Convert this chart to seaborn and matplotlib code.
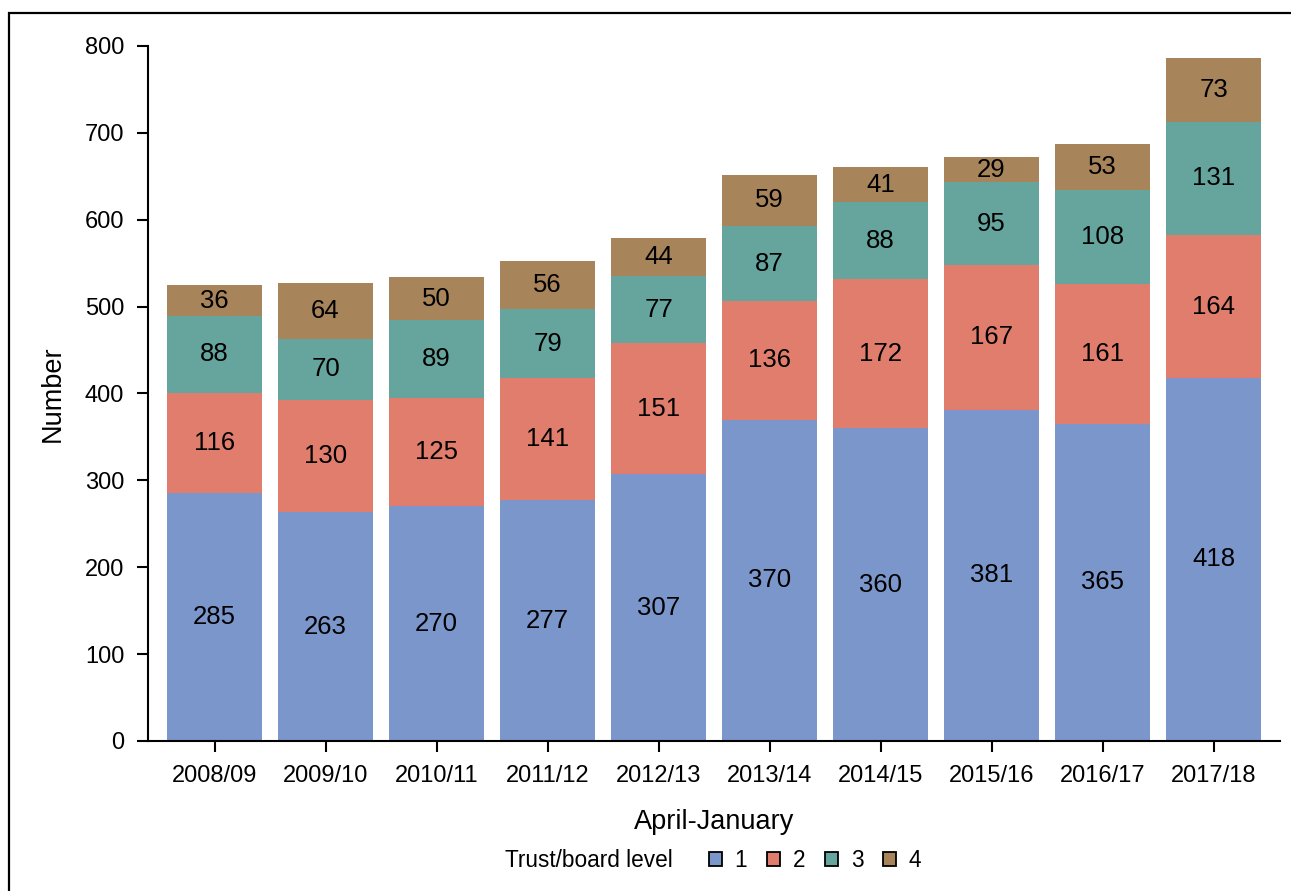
import matplotlib
matplotlib.use("Agg")
import matplotlib.pyplot as plt
import numpy as np
import seaborn as sns
from matplotlib.patches import Rectangle, Patch

years = ["2008/09", "2009/10", "2010/11", "2011/12", "2012/13",
         "2013/14", "2014/15", "2015/16", "2016/17", "2017/18"]
levels = ["1", "2", "3", "4"]
level_1 = [285, 263, 270, 277, 307, 370, 360, 381, 365, 418]
level_2 = [116, 130, 125, 141, 151, 136, 172, 167, 161, 164]
level_3 = [88, 70, 89, 79, 77, 87, 88, 95, 108, 131]
level_4 = [36, 64, 50, 56, 44, 59, 41, 29, 53, 73]
colors = ["#7b96cb", "#e07d6d", "#65a59e", "#a8845a"]

sns.set_style("ticks")
plt.rcParams["font.family"] = ["Liberation Sans", "DejaVu Sans"]
plt.rcParams.update({"text.color": "black", "axes.labelcolor": "black",
                     "xtick.color": "black", "ytick.color": "black"})

fig = plt.figure(figsize=(12.91, 8.91), dpi=100)
ax = fig.add_axes([0.1146, 0.1684, 0.877, 0.78])

bottom = np.zeros(len(years))
for vals, col in zip([level_1, level_2, level_3, level_4], colors):
    sns.barplot(x=years, y=vals, bottom=bottom, color=col, width=0.86,
                saturation=1, linewidth=0, ax=ax)
    ax.bar_label(ax.containers[-1], label_type="center", fontsize=18.5, color="black")
    bottom = bottom + np.array(vals)

ax.set_xlim(-0.6, 9.6)
ax.set_ylim(0, 800)
ax.set_yticks(range(0, 801, 100))
ax.tick_params(labelsize=17, width=1.5, length=8, color="black")
ax.tick_params(axis="y", pad=9)
ax.tick_params(axis="x", pad=9)
ax.set_xlabel("April-January", fontsize=19.5, labelpad=16)
ax.set_ylabel("Number", fontsize=19.5, labelpad=14)
sns.despine(ax=ax)
for s in ["left", "bottom"]:
    ax.spines[s].set_linewidth(1.5)
    ax.spines[s].set_color("black")

# legend with title on the left
handles = [Patch(facecolor=c, edgecolor="black", linewidth=1.3) for c in colors]
fig.text(0.391, 0.034, "Trust/board level", fontsize=16.3, va="center", ha="left")
fig.legend(handles, levels, loc="center left", bbox_to_anchor=(0.5405, 0.034),
           ncol=4, frameon=False, fontsize=16.3, handlelength=0.58, handleheight=0.58,
           handletextpad=0.55, columnspacing=0.88, borderpad=0)

# frame around the figure
fig.patches.append(Rectangle((9 / 1291, -0.01), 1.0, 0.9954, transform=fig.transFigure,
                             fill=False, edgecolor="black", linewidth=1.6))

fig.savefig("out.png", dpi=100)
